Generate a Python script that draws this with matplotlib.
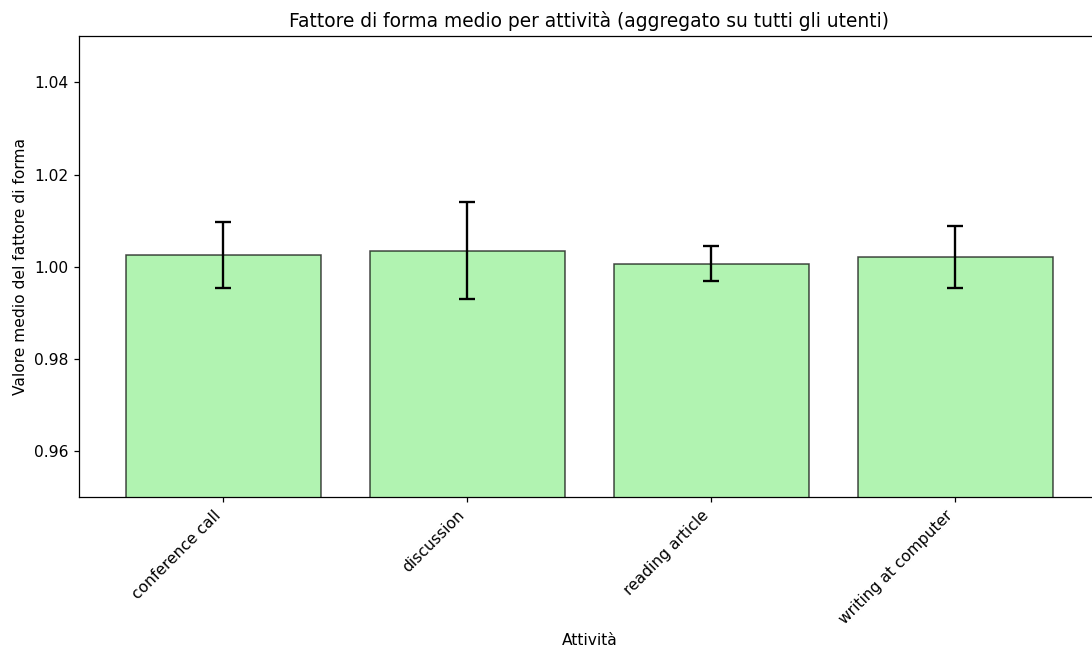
import matplotlib
matplotlib.use("Agg")
import matplotlib.pyplot as plt
import numpy as np

activities = ["conference call", "discussion", "reading article", "writing at computer"]
mean_values = [1.0025, 1.0035, 1.0006, 1.0021]
std_values = [0.0071, 0.0106, 0.0038, 0.0067]

DPI = 112
fig = plt.figure(figsize=(1092 / DPI, 651 / DPI), dpi=DPI)
ax = fig.add_axes([0.0728, 0.2366, 0.934, 0.7075])

x = np.arange(len(activities))
ax.bar(x, mean_values, yerr=std_values, capsize=5, color="lightgreen",
       alpha=0.7, edgecolor="black", width=0.8,
       error_kw=dict(ecolor="black", elinewidth=1.5, capthick=1.5, alpha=1))

ax.set_ylim(0.95, 1.05)
ax.set_yticks([0.96, 0.98, 1.00, 1.02, 1.04])
ax.set_xticks(x)
ax.set_xticklabels(activities, rotation=45, ha="right")
ax.set_title("Fattore di forma medio per attività (aggregato su tutti gli utenti)", fontsize=12)
ax.set_xlabel("Attività")
ax.set_ylabel("Valore medio del fattore di forma")

fig.savefig("out.png", dpi=DPI)
